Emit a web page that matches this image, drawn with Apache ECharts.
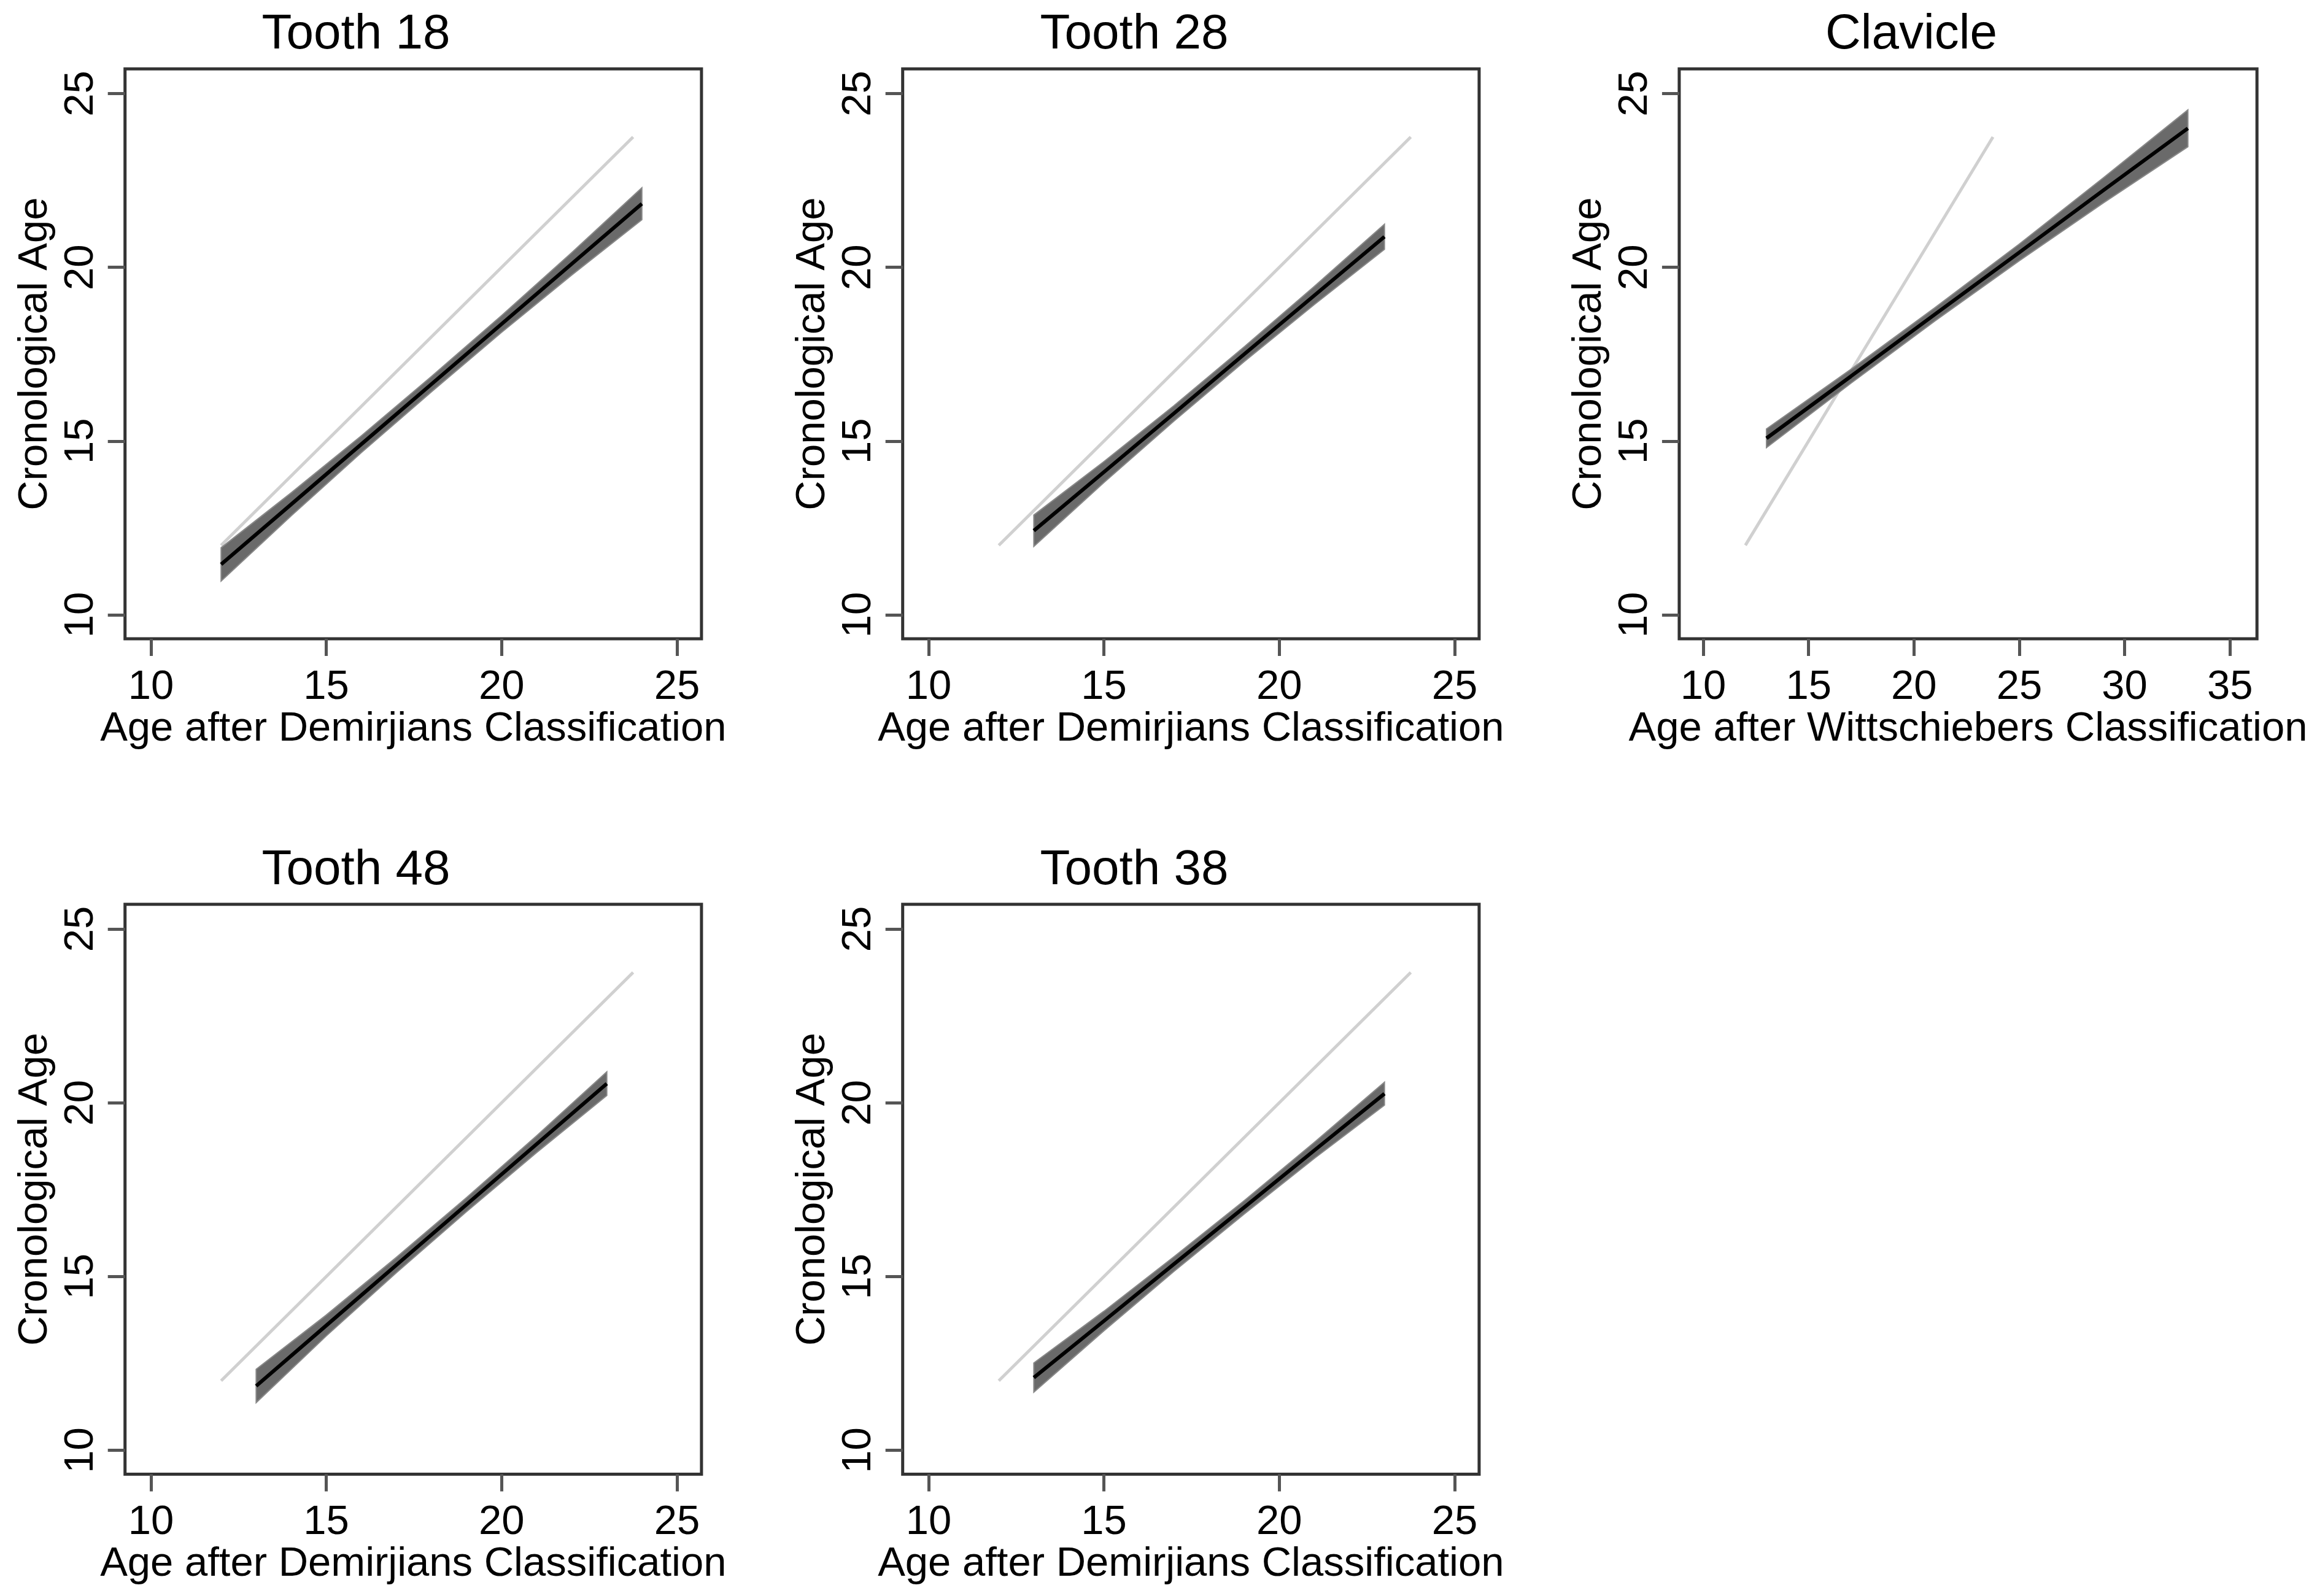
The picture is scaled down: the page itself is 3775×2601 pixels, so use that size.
<!DOCTYPE html>
<html>
<head>
<meta charset="utf-8">
<script src="https://cdn.jsdelivr.net/npm/echarts@6/dist/echarts.min.js"></script>
<style>
html,body{margin:0;padding:0;background:#fff;}
#chart{width:3775px;height:2601px;}
</style>
</head>
<body>
<div id="chart"></div>
<script>
// ---- data ----
const panelTitles = ['Tooth 18', 'Tooth 28', 'Clavicle', 'Tooth 48', 'Tooth 38'];
const xAxisNames = ['Age after Demirjians Classification', 'Age after Demirjians Classification',
  'Age after Wittschiebers Classification', 'Age after Demirjians Classification', 'Age after Demirjians Classification'];
const yAxisName = 'Cronological Age';
const yTicks = [10, 15, 20, 25];
const xTicksDemirjian = [10, 15, 20, 25];
const xTicksClavicle = [10, 15, 20, 25, 30, 35];

// reference (identity) line end points
const refLineX = [12, 23.75];
const refLineY = [12, 23.75];

// Tooth 18
const t18X = [12, 14, 16, 18, 20, 22, 24];
const t18Fit = [11.45, 13.18, 14.91, 16.64, 18.37, 20.10, 21.83];
const t18Lo = [10.97, 12.85, 14.67, 16.42, 18.13, 19.78, 21.37];
const t18Hi = [11.93, 13.51, 15.15, 16.86, 18.61, 20.42, 22.29];
// Tooth 28
const t28X = [13, 15, 17, 19, 21, 23];
const t28Fit = [12.42, 14.11, 15.80, 17.50, 19.19, 20.88];
const t28Lo = [11.97, 13.81, 15.58, 17.29, 18.93, 20.52];
const t28Hi = [12.87, 14.41, 16.02, 17.71, 19.45, 21.24];
// Clavicle
const clX = [13, 17, 21, 25, 29, 33];
const clFit = [15.08, 16.86, 18.65, 20.43, 22.22, 24.00];
const clLo = [14.81, 16.66, 18.46, 20.19, 21.86, 23.47];
const clHi = [15.35, 17.06, 18.84, 20.67, 22.58, 24.53];
// Tooth 48
const t48X = [13, 15, 17, 19, 21, 23];
const t48Fit = [11.85, 13.59, 15.33, 17.07, 18.81, 20.55];
const t48Lo = [11.37, 13.29, 15.11, 16.87, 18.57, 20.21];
const t48Hi = [12.33, 13.89, 15.55, 17.27, 19.05, 20.89];
// Tooth 38
const t38X = [13, 15, 17, 19, 21, 23];
const t38Fit = [12.09, 13.72, 15.36, 16.99, 18.63, 20.26];
const t38Lo = [11.67, 13.44, 15.15, 16.80, 18.40, 19.93];
const t38Hi = [12.51, 14.00, 15.57, 17.18, 18.86, 20.59];

const panels = [
  {x: t18X, fit: t18Fit, lo: t18Lo, hi: t18Hi},
  {x: t28X, fit: t28Fit, lo: t28Lo, hi: t28Hi},
  {x: clX, fit: clFit, lo: clLo, hi: clHi},
  {x: t48X, fit: t48Fit, lo: t48Lo, hi: t48Hi},
  {x: t38X, fit: t38Fit, lo: t38Lo, hi: t38Hi}
];

// ---- layout ----
const FONT = 'Liberation Sans, Arial, sans-serif';
const gridPos = [
  {left: 203.7, top: 112.3},
  {left: 1470.7, top: 112.3},
  {left: 2735.9, top: 112.3},
  {left: 203.7, top: 1473.8},
  {left: 1470.7, top: 1473.8}
];
const xRangeD = [9.26, 25.7];
const xRangeC = [8.86, 36.28];
const yRange = [9.31, 25.71];
const titleCenters = [[580, 57], [1848, 57], [3114, 57], [580, 1418.5], [1848, 1418.5]];

const grids = [], xAxes = [], yAxes = [], series = [], graphics = [];
panels.forEach((p, i) => {
  const isCl = i === 2;
  grids.push({
    left: gridPos[i].left, top: gridPos[i].top,
    width: isCl ? 941.3 : 939.2, height: 928.7,
    show: true, borderColor: '#333', borderWidth: 5, backgroundColor: '#fff'
  });
  const xt = isCl ? xTicksClavicle : xTicksDemirjian;
  xAxes.push({
    type: 'value', gridIndex: i,
    min: isCl ? xRangeC[0] : xRangeD[0], max: isCl ? xRangeC[1] : xRangeD[1],
    axisLine: {show: false},
    splitLine: {show: false},
    axisTick: {show: true, inside: false, length: 28, customValues: xt, lineStyle: {color: '#555', width: 5}},
    axisLabel: {show: true, customValues: xt, margin: 46, fontSize: 67, color: '#000', fontFamily: FONT},
    name: xAxisNames[i], nameLocation: 'middle', nameGap: 110,
    nameTextStyle: {fontSize: 67, color: '#000', fontFamily: FONT}
  });
  yAxes.push({
    type: 'value', gridIndex: i,
    min: yRange[0], max: yRange[1],
    axisLine: {show: false},
    splitLine: {show: false},
    axisTick: {show: true, inside: false, length: 28, customValues: yTicks, lineStyle: {color: '#555', width: 5}},
    axisLabel: {show: true, customValues: yTicks, rotate: 90, margin: 38, fontSize: 67, color: '#000', fontFamily: FONT},
    name: yAxisName, nameLocation: 'middle', nameGap: 113, nameRotate: 90,
    nameTextStyle: {fontSize: 67, color: '#000', fontFamily: FONT}
  });
  // identity line
  series.push({
    type: 'line', xAxisIndex: i, yAxisIndex: i, symbol: 'none', silent: true,
    data: refLineX.map((v, k) => [v, refLineY[k]]),
    lineStyle: {color: '#d0d0d0', width: 5}, z: 2
  });
  // confidence band polygon
  series.push({
    type: 'custom', xAxisIndex: i, yAxisIndex: i, silent: true, z: 3,
    data: [[p.x[0], p.fit[0]]],
    renderItem: function (params, api) {
      const pts = [];
      for (let k = 0; k < p.x.length; k++) pts.push(api.coord([p.x[k], p.hi[k]]));
      for (let k = p.x.length - 1; k >= 0; k--) pts.push(api.coord([p.x[k], p.lo[k]]));
      return {type: 'polygon', shape: {points: pts}, style: {fill: '#6a6a6a', stroke: '#888', lineWidth: 2}};
    }
  });
  // fitted line
  series.push({
    type: 'line', xAxisIndex: i, yAxisIndex: i, symbol: 'none', silent: true, z: 4,
    data: p.x.map((v, k) => [v, p.fit[k]]),
    lineStyle: {color: '#000', width: 6}
  });
  graphics.push({
    type: 'text', x: titleCenters[i][0], y: titleCenters[i][1],
    style: {text: panelTitles[i], fontSize: 80, fill: '#000', fontFamily: FONT, textAlign: 'center', textVerticalAlign: 'middle'}
  });
});

const chart = echarts.init(document.getElementById('chart'), null, {renderer: 'canvas'});
chart.setOption({
  animation: false,
  backgroundColor: '#fff',
  grid: grids, xAxis: xAxes, yAxis: yAxes, series: series,
  graphic: graphics
});
</script>
</body>
</html>
